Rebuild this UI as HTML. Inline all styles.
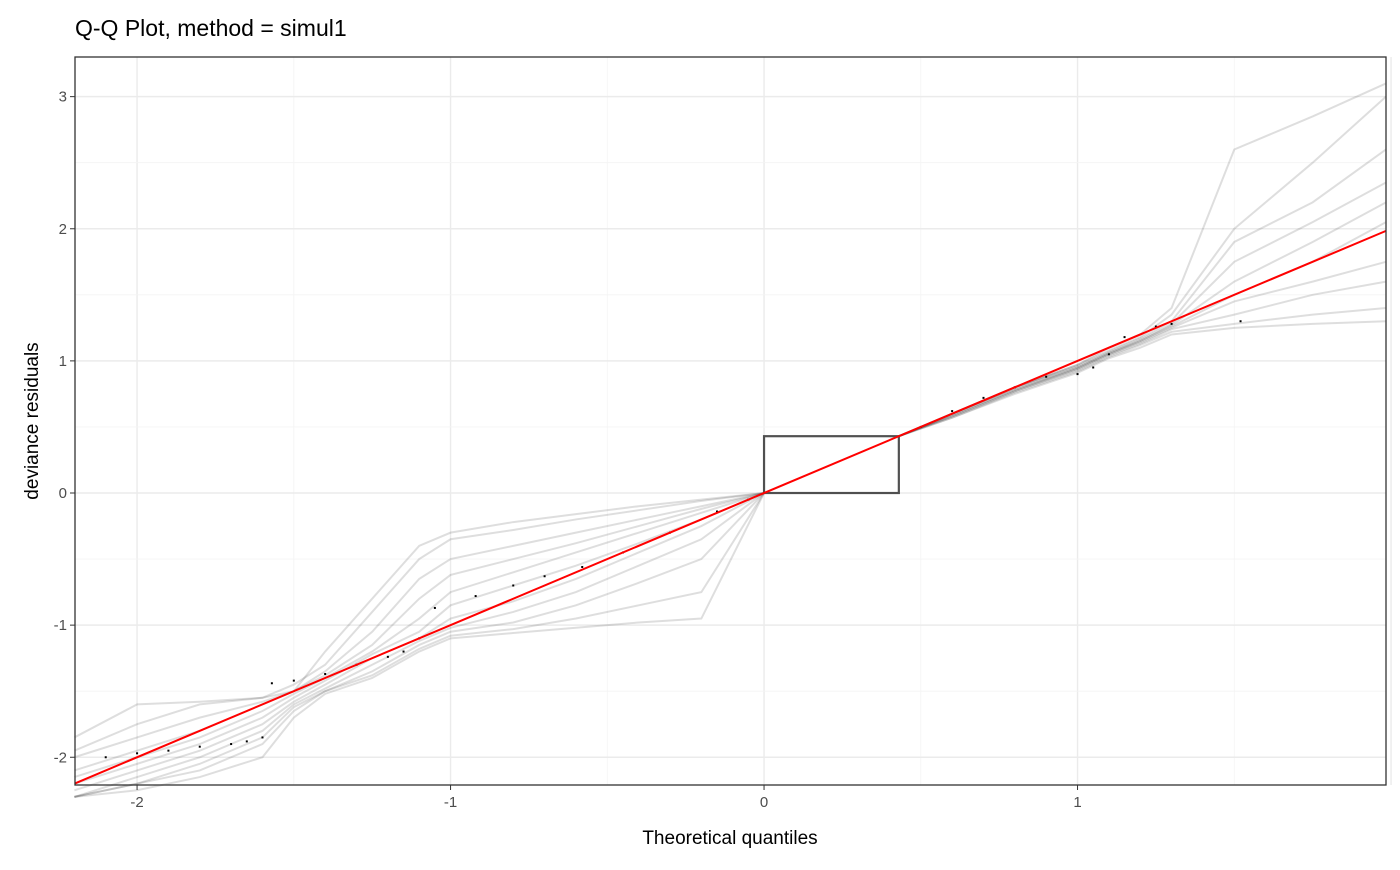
<!DOCTYPE html>
<html><head><meta charset="utf-8"><style>
body{margin:0;background:#fff;font-family:"Liberation Sans",sans-serif;}
</style></head><body>
<svg id="chart" width="1400" height="865" xmlns="http://www.w3.org/2000/svg" font-family="Liberation Sans, sans-serif">
<text x="75" y="36" font-size="23" fill="#000">Q-Q Plot, method = simul1</text>
<text x="730" y="844" font-size="19" text-anchor="middle">Theoretical quantiles</text>
<text transform="translate(38,421) rotate(-90)" font-size="19" text-anchor="middle">deviance residuals</text>
<g id="grid"></g><g id="sims"></g><g id="pts"></g><g id="ref"></g><g id="axes"></g>
</svg>
<script>
const xTicks=[-2,-1,0,1];
const yTicks=[-2,-1,0,1,2,3];
const negX=[-2.2,-2.0,-1.8,-1.6,-1.5,-1.4,-1.25,-1.1,-1.0,-0.8,-0.6,-0.4,-0.2,0];
const negSims=[
[-1.85,-1.6,-1.58,-1.55,-1.5,-1.2,-0.8,-0.4,-0.3,-0.22,-0.16,-0.1,-0.05,0],
[-1.95,-1.75,-1.6,-1.55,-1.45,-1.3,-0.9,-0.5,-0.35,-0.28,-0.2,-0.13,-0.06,0],
[-2.0,-1.85,-1.7,-1.58,-1.5,-1.35,-1.05,-0.65,-0.5,-0.4,-0.3,-0.2,-0.1,0],
[-2.1,-1.95,-1.8,-1.6,-1.5,-1.38,-1.15,-0.8,-0.62,-0.5,-0.38,-0.25,-0.12,0],
[-2.15,-2.0,-1.85,-1.65,-1.52,-1.4,-1.2,-0.95,-0.75,-0.6,-0.45,-0.3,-0.15,0],
[-2.2,-2.05,-1.9,-1.7,-1.55,-1.42,-1.22,-1.05,-0.85,-0.7,-0.55,-0.38,-0.2,0],
[-2.25,-2.1,-1.95,-1.75,-1.58,-1.45,-1.25,-1.1,-0.95,-0.82,-0.65,-0.45,-0.25,0],
[-2.3,-2.15,-2.0,-1.8,-1.6,-1.48,-1.3,-1.12,-1.02,-0.9,-0.75,-0.55,-0.35,0],
[-2.3,-2.2,-2.05,-1.85,-1.62,-1.5,-1.35,-1.15,-1.05,-0.98,-0.85,-0.68,-0.5,0],
[-2.3,-2.2,-2.1,-1.9,-1.65,-1.5,-1.38,-1.18,-1.08,-1.03,-0.95,-0.85,-0.75,0],
[-2.3,-2.25,-2.15,-2.0,-1.7,-1.52,-1.4,-1.2,-1.1,-1.06,-1.02,-0.98,-0.95,0]];
const posX=[0.43,0.6,0.8,1.0,1.1,1.2,1.3,1.5,1.75,1.984];
const posSims=[
[0.43,0.6,0.8,0.97,1.1,1.2,1.4,2.6,2.85,3.1],
[0.43,0.6,0.8,0.97,1.08,1.18,1.35,2.0,2.5,3.0],
[0.43,0.6,0.8,0.96,1.07,1.17,1.3,1.9,2.2,2.6],
[0.43,0.6,0.79,0.95,1.06,1.16,1.28,1.75,2.05,2.35],
[0.43,0.59,0.78,0.95,1.06,1.15,1.27,1.6,1.9,2.2],
[0.43,0.59,0.78,0.94,1.05,1.15,1.26,1.5,1.75,2.05],
[0.43,0.58,0.77,0.94,1.05,1.14,1.25,1.45,1.6,1.75],
[0.43,0.58,0.77,0.93,1.04,1.13,1.24,1.35,1.5,1.6],
[0.43,0.57,0.76,0.92,1.03,1.12,1.22,1.28,1.35,1.4],
[0.43,0.57,0.75,0.91,1.02,1.1,1.2,1.25,1.28,1.3]];
const obsX=[-2.1,-2.0,-1.9,-1.8,-1.7,-1.65,-1.6,-1.57,-1.5,-1.4,-1.3,-1.2,-1.15,-1.1,-1.05,-0.92,-0.8,-0.7,-0.58,-0.45,-0.3,-0.15,-0.05,0.5,0.6,0.7,0.8,0.9,1.0,1.05,1.1,1.15,1.25,1.3,1.52];
const obsY=[-2.0,-1.97,-1.95,-1.92,-1.9,-1.88,-1.85,-1.44,-1.42,-1.37,-1.3,-1.24,-1.2,-1.1,-0.87,-0.78,-0.7,-0.63,-0.56,-0.45,-0.3,-0.14,-0.05,0.5,0.62,0.72,0.8,0.88,0.9,0.95,1.05,1.18,1.26,1.28,1.3];
const boxTop=0.43;
const L=75,R=1386,T=57,B=785,xmin=-2.198,xmax=1.984,ymin=-2.21,ymax=3.30;
const sx=v=>L+(v-xmin)/(xmax-xmin)*(R-L);
const sy=v=>B-(v-ymin)/(ymax-ymin)*(B-T);
const NS="http://www.w3.org/2000/svg";
function mk(tag,parent,attrs){const e=document.createElementNS(NS,tag);for(const k in attrs)e.setAttribute(k,attrs[k]);document.getElementById(parent).appendChild(e);return e;}
for(let v=-2;v<=2;v+=0.5){const e=mk('line','grid',{x1:sx(v),x2:sx(v),y1:T,y2:B,stroke:Number.isInteger(v)?'#ebebeb':'#f4f4f4','stroke-width':Number.isInteger(v)?1.4:0.8});

}
for(let v=-2;v<=3;v+=0.5){const e=mk('line','grid',{x1:L,x2:R,y1:sy(v),y2:sy(v),stroke:Number.isInteger(v)?'#ebebeb':'#f4f4f4','stroke-width':Number.isInteger(v)?1.4:0.8});

}
negSims.forEach(s=>{const e=mk('polyline','sims',{points:s.map((y,i)=>sx(negX[i])+','+sy(y)).join(' '),fill:'none',stroke:'#000','stroke-opacity':0.13,'stroke-width':2});

});
posSims.forEach(s=>{const e=mk('polyline','sims',{points:s.map((y,i)=>sx(posX[i])+','+sy(y)).join(' '),fill:'none',stroke:'#000','stroke-opacity':0.13,'stroke-width':2});

});
const bx=mk('rect','sims',{x:sx(0),y:sy(boxTop),width:sx(boxTop)-sx(0),height:sy(0)-sy(boxTop),fill:'none',stroke:'#333','stroke-opacity':0.85,'stroke-width':2.2});


obsX.forEach((x,i)=>{const e=mk('rect','pts',{x:sx(x)-1,y:sy(obsY[i])-1,width:2,height:2,fill:'#000'});

});
const rl=mk('line','ref',{x1:sx(xmin),y1:sy(xmin),x2:sx(xmax),y2:sy(xmax),stroke:'#ff0000','stroke-width':2});


const fr=mk('rect','axes',{x:L,y:T,width:R-L,height:B-T,fill:'none',stroke:'#333','stroke-width':1.3});


xTicks.forEach(v=>{mk('line','axes',{x1:sx(v),x2:sx(v),y1:B,y2:B+5,stroke:'#333'});
const t=mk('text','axes',{x:sx(v),y:B+22,'font-size':15,fill:'#4d4d4d','text-anchor':'middle'});t.textContent=v;

});
yTicks.forEach(v=>{mk('line','axes',{x1:L-5,x2:L,y1:sy(v),y2:sy(v),stroke:'#333'});
const t=mk('text','axes',{x:L-8,y:sy(v)+5,'font-size':15,fill:'#4d4d4d','text-anchor':'end'});t.textContent=v;

});
</script>
</body></html>
